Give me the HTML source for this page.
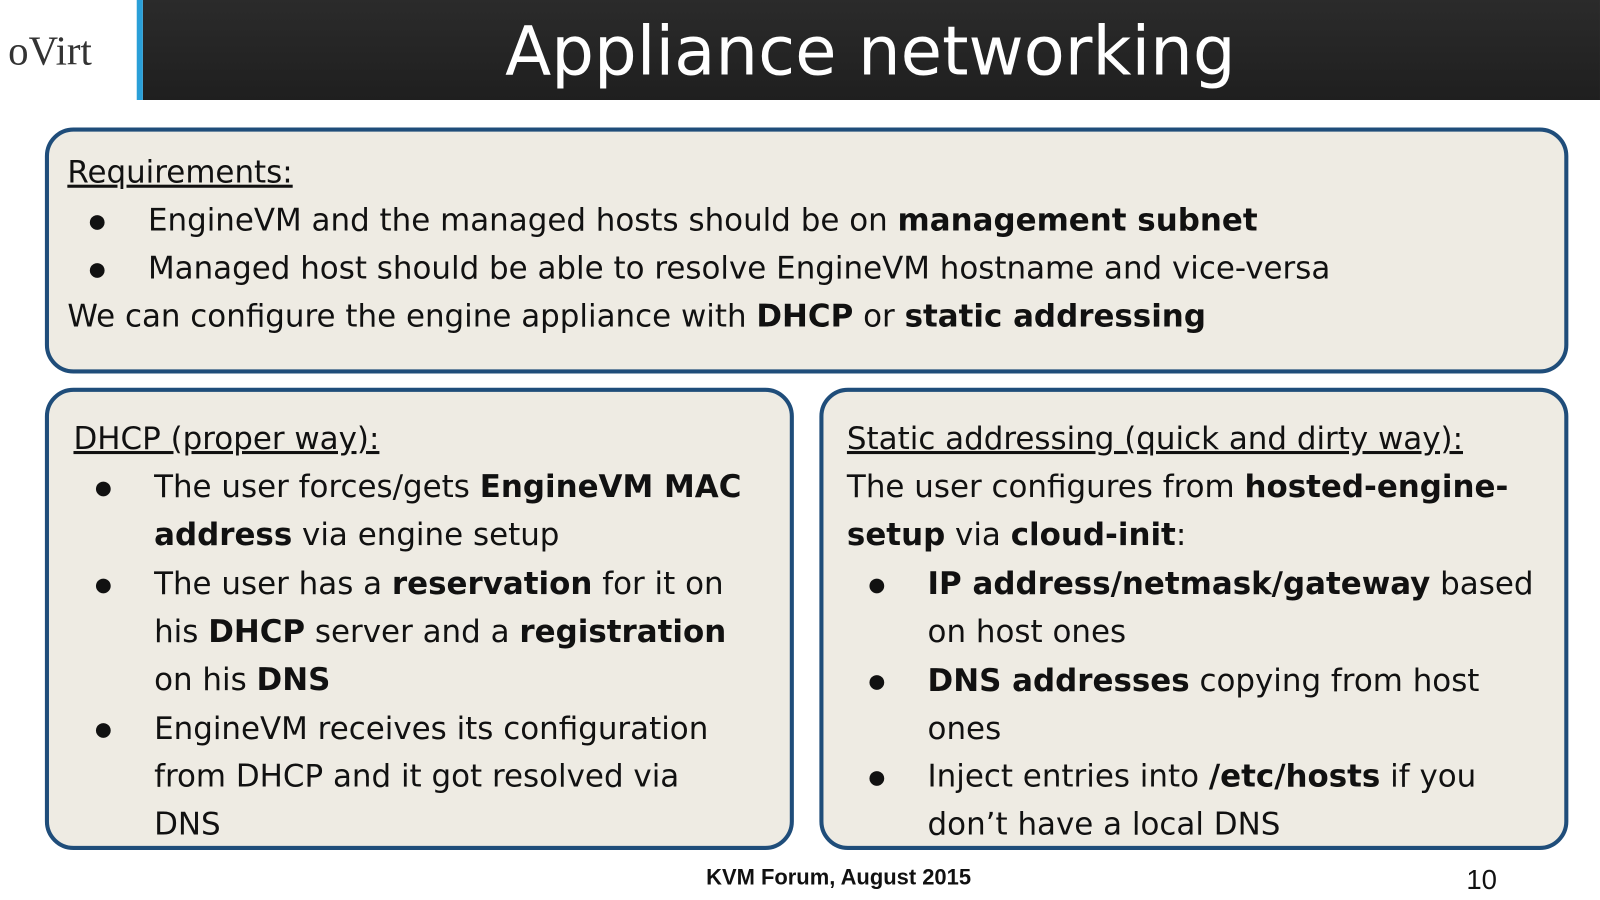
<!DOCTYPE html>
<html><head><meta charset="utf-8"><style>
*{margin:0;padding:0;box-sizing:border-box}
body{width:1600px;height:900px;background:#fff;position:relative;overflow:hidden;font-family:"DejaVu Sans",sans-serif;color:#111}
#w{position:absolute;left:0;top:0;width:1568px;height:882px;transform:scale(1.0204);transform-origin:0 0}
.hdr{position:absolute;left:134px;top:0;width:1434px;height:98px;background:linear-gradient(180deg,#2b2b2b,#1f1f1f);border-left:6px solid #2a9fd8}
.title{position:absolute;left:134px;width:1434px;top:9px;text-align:center;color:#fff;font-size:66px;line-height:84px;padding-left:4px}
.logo{position:absolute;left:8px;top:26px;font-family:"Liberation Serif",serif;font-size:40px;color:#333}
.box{position:absolute;background:#eeebe3;border:4px solid #1f4d7a;border-radius:28px}
.t{position:absolute;font-size:30.3px;line-height:47px;white-space:nowrap}
.u{text-decoration:underline}
.bul{position:absolute;font-size:19px;line-height:47px}
.foot{position:absolute;left:692px;top:848px;font-family:"Liberation Sans",sans-serif;font-size:21.5px;font-weight:bold}
.pg{position:absolute;left:1437px;top:847px;font-family:"Liberation Sans",sans-serif;font-size:27px}
</style></head><body><div id="w">
<div class="hdr"></div>
<div class="title">Appliance networking</div>
<div class="logo">oVirt</div>

<div class="box" style="left:44px;top:125px;width:1493px;height:241px"></div>
<div class="t u" style="left:66px;top:146px">Requirements:</div>
<div class="bul" style="left:87px;top:194px">●</div>
<div class="t" style="left:145px;top:193px">EngineVM and the managed hosts should be on <b>management subnet</b></div>
<div class="bul" style="left:87px;top:241px">●</div>
<div class="t" style="left:145px;top:240px">Managed host should be able to resolve EngineVM hostname and vice-versa</div>
<div class="t" style="left:66px;top:287px">We can configure the engine appliance with <b>DHCP</b> or <b>static addressing</b></div>

<div class="box" style="left:44px;top:380px;width:734px;height:453px"></div>
<div class="t u" style="left:72px;top:407px">DHCP (proper way):</div>
<div class="bul" style="left:93px;top:455px">●</div>
<div class="t" style="left:151px;top:454px">The user forces/gets <b>EngineVM MAC</b></div>
<div class="t" style="left:151px;top:501px"><b>address</b> via engine setup</div>
<div class="bul" style="left:93px;top:550px">●</div>
<div class="t" style="left:151px;top:549px">The user has a <b>reservation</b> for it on</div>
<div class="t" style="left:151px;top:596px">his <b>DHCP</b> server and a <b>registration</b></div>
<div class="t" style="left:151px;top:643px">on his <b>DNS</b></div>
<div class="bul" style="left:93px;top:692px">●</div>
<div class="t" style="left:151px;top:691px">EngineVM receives its configuration</div>
<div class="t" style="left:151px;top:738px">from DHCP and it got resolved via</div>
<div class="t" style="left:151px;top:785px">DNS</div>

<div class="box" style="left:803px;top:380px;width:734px;height:453px"></div>
<div class="t u" style="left:830px;top:407px">Static addressing (quick and dirty way):</div>
<div class="t" style="left:830px;top:454px">The user configures from <b>hosted-engine-</b></div>
<div class="t" style="left:830px;top:501px"><b>setup</b> via <b>cloud-init</b>:</div>
<div class="bul" style="left:851px;top:550px">●</div>
<div class="t" style="left:909px;top:549px"><b>IP address/netmask/gateway</b> based</div>
<div class="t" style="left:909px;top:596px">on host ones</div>
<div class="bul" style="left:851px;top:645px">●</div>
<div class="t" style="left:909px;top:644px"><b>DNS addresses</b> copying from host</div>
<div class="t" style="left:909px;top:691px">ones</div>
<div class="bul" style="left:851px;top:739px">●</div>
<div class="t" style="left:909px;top:738px">Inject entries into <b>/etc/hosts</b> if you</div>
<div class="t" style="left:909px;top:785px">don’t have a local DNS</div>

<div class="foot">KVM Forum, August 2015</div>
<div class="pg">10</div>
</div></body></html>
